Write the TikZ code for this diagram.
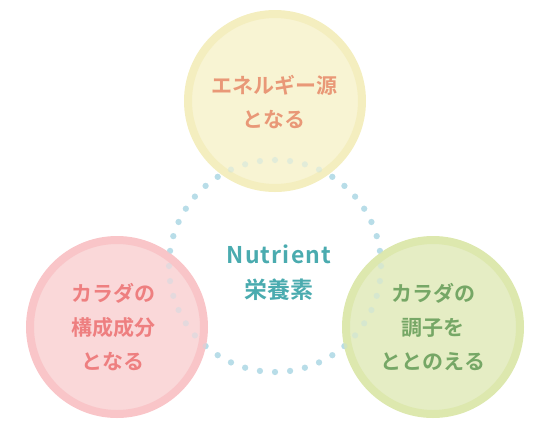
\documentclass[tikz,border=0pt]{standalone}
\usepackage{fontspec}
\setmainfont{Noto Sans CJK JP}[BoldFont=* Bold]
\newfontfamily\spacedfont{Noto Sans CJK JP}[BoldFont=* Bold,LetterSpace=5]
\definecolor{dotblue}{HTML}{B8DDE8}
\definecolor{yring}{HTML}{F4EEBF}
\definecolor{yfill}{HTML}{F8F4D3}
\definecolor{pring}{HTML}{F9C5C8}
\definecolor{pfill}{HTML}{FAD8D9}
\definecolor{gring}{HTML}{DDE8AE}
\definecolor{gfill}{HTML}{E5EDC4}
\definecolor{ytext}{HTML}{E99877}
\definecolor{ptext}{HTML}{EE7F80}
\definecolor{gtext}{HTML}{76A766}
\definecolor{teal}{HTML}{4AABAF}
\tikzset{
  bigcircle/.style={circle,minimum size=174pt,line width=8pt,inner sep=0pt},
  label/.style={align=center,font=\bfseries\fontsize{21}{34}\selectfont},
}
\begin{document}
\begin{tikzpicture}[x=1pt,y=-1pt]
\useasboundingbox (0,0) rectangle (538,421);
\coordinate (ringc) at (275,266);
% dots
\foreach \i in {0,...,43}
  \fill[dotblue] (ringc) ++(\i*360/44:106) circle (3.1);
% circles
\node[bigcircle,draw=yring,fill=yfill] (top) at (275,101) {};
\node[bigcircle,draw=pring,fill=pfill] (left) at (117,327) {};
\node[bigcircle,draw=gring,fill=gfill] (right) at (433,327) {};
% faint dots over circles
\foreach \i in {0,...,43}
  \fill[dotblue,opacity=0.33] (ringc) ++(\i*360/44:106) circle (3.1);
% labels
\node[label,text=ytext] (toplabel) at (274,102) {エネルギー源\\となる};
\node[label,text=ptext] (leftlabel) at (113,327) {カラダの\\構成成分\\となる};
\node[label,text=gtext] (rightlabel) at (433,327) {カラダの\\調子を\\ととのえる};
\node[align=center,text=teal,font=\bfseries\fontsize{23}{35}\selectfont] (center) at (279,273) {{\spacedfont Nutrient}\\栄養素};
\end{tikzpicture}
\end{document}
